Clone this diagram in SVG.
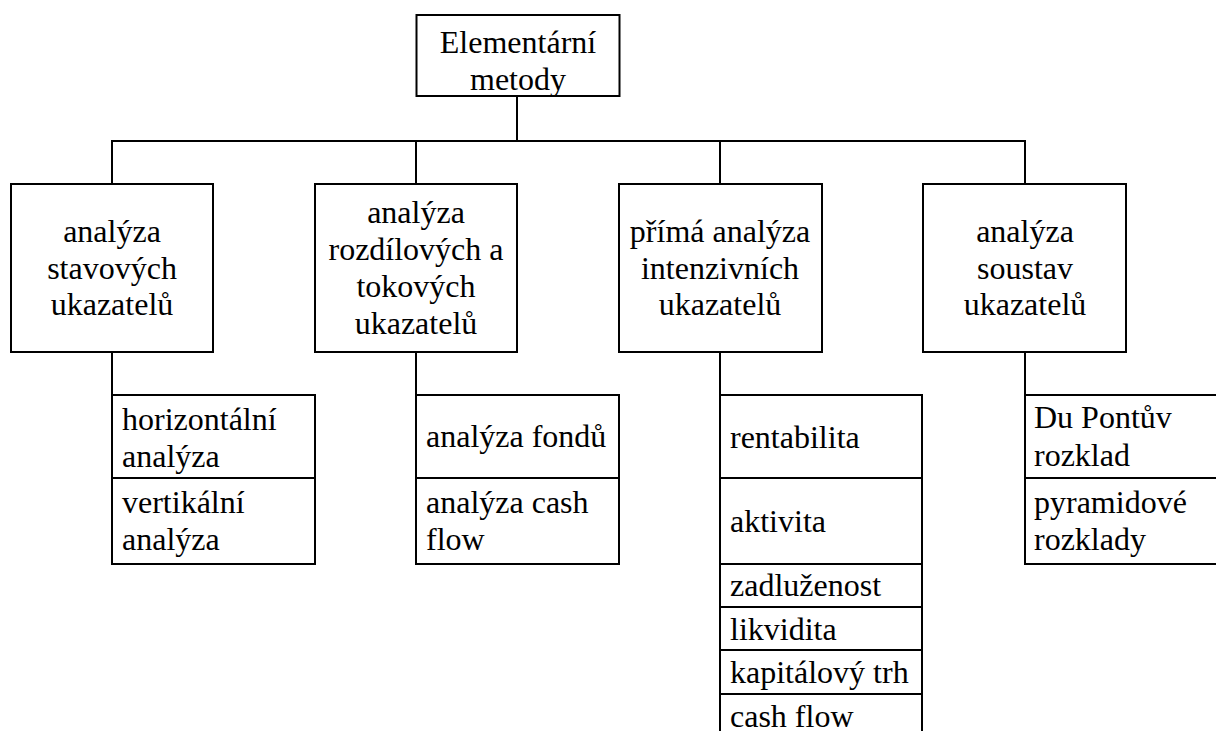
<svg xmlns="http://www.w3.org/2000/svg" width="1216" height="731" viewBox="0 0 1216 731">
<style>
.b { fill: none; stroke: #000; stroke-width: 2; }
.c { text-anchor: middle; }
</style>
<rect x="0" y="0" width="1216" height="731" fill="#fff"/>
<g id="connectors" class="b">
<line x1="517" y1="96" x2="517" y2="141"/>
<line x1="112" y1="141" x2="1025" y2="141"/>
<line x1="112" y1="140" x2="112" y2="184"/>
<line x1="416" y1="140" x2="416" y2="184"/>
<line x1="720" y1="140" x2="720" y2="184"/>
<line x1="1025" y1="140" x2="1025" y2="184"/>
<line x1="112" y1="352" x2="112" y2="395"/>
<line x1="416" y1="352" x2="416" y2="395"/>
<line x1="720" y1="352" x2="720" y2="395"/>
<line x1="1025" y1="352" x2="1025" y2="395"/>
</g>
<g id="root">
<rect class="b" x="416.5" y="15" width="203" height="81"/>
<text class="c" x="518" y="53" font-size="32" font-family="Times New Roman" style="font-family:'Times New Roman','Liberation Serif',serif">Elementární</text>
<text class="c" x="518" y="89.5" font-size="32" font-family="Times New Roman" style="font-family:'Times New Roman','Liberation Serif',serif">metody</text>
</g>
<g id="n1">
<rect class="b" x="11" y="184" width="202" height="168"/>
<text class="c" x="112" y="242" font-size="32" font-family="Times New Roman" style="font-family:'Times New Roman','Liberation Serif',serif">analýza</text>
<text class="c" x="112" y="278.5" font-size="32" font-family="Times New Roman" style="font-family:'Times New Roman','Liberation Serif',serif">stavových</text>
<text class="c" x="112" y="315" font-size="32" font-family="Times New Roman" style="font-family:'Times New Roman','Liberation Serif',serif">ukazatelů</text>
</g>
<g id="n2">
<rect class="b" x="315" y="184" width="202" height="168"/>
<text class="c" x="416" y="223" font-size="32" font-family="Times New Roman" style="font-family:'Times New Roman','Liberation Serif',serif">analýza</text>
<text class="c" x="416" y="260" font-size="32" font-family="Times New Roman" style="font-family:'Times New Roman','Liberation Serif',serif">rozdílových a</text>
<text class="c" x="416" y="297" font-size="32" font-family="Times New Roman" style="font-family:'Times New Roman','Liberation Serif',serif">tokových</text>
<text class="c" x="416" y="334" font-size="32" font-family="Times New Roman" style="font-family:'Times New Roman','Liberation Serif',serif">ukazatelů</text>
</g>
<g id="n3">
<rect class="b" x="619" y="184" width="203" height="168"/>
<text class="c" x="720" y="242" font-size="32" font-family="Times New Roman" style="font-family:'Times New Roman','Liberation Serif',serif">přímá analýza</text>
<text class="c" x="720" y="278.5" font-size="32" font-family="Times New Roman" style="font-family:'Times New Roman','Liberation Serif',serif">intenzivních</text>
<text class="c" x="720" y="315" font-size="32" font-family="Times New Roman" style="font-family:'Times New Roman','Liberation Serif',serif">ukazatelů</text>
</g>
<g id="n4">
<rect class="b" x="923" y="184" width="203" height="168"/>
<text class="c" x="1025" y="242" font-size="32" font-family="Times New Roman" style="font-family:'Times New Roman','Liberation Serif',serif">analýza</text>
<text class="c" x="1025" y="278.5" font-size="32" font-family="Times New Roman" style="font-family:'Times New Roman','Liberation Serif',serif">soustav</text>
<text class="c" x="1025" y="315" font-size="32" font-family="Times New Roman" style="font-family:'Times New Roman','Liberation Serif',serif">ukazatelů</text>
</g>
<g id="n1a">
<rect class="b" x="112" y="395" width="203" height="83"/>
<text x="122" y="430" font-size="32" font-family="Times New Roman" style="font-family:'Times New Roman','Liberation Serif',serif">horizontální</text>
<text x="122" y="466.5" font-size="32" font-family="Times New Roman" style="font-family:'Times New Roman','Liberation Serif',serif">analýza</text>
</g>
<g id="n1b">
<rect class="b" x="112" y="478" width="203" height="86"/>
<text x="122" y="513" font-size="32" font-family="Times New Roman" style="font-family:'Times New Roman','Liberation Serif',serif">vertikální</text>
<text x="122" y="550" font-size="32" font-family="Times New Roman" style="font-family:'Times New Roman','Liberation Serif',serif">analýza</text>
</g>
<g id="n2a">
<rect class="b" x="416" y="395" width="203" height="83"/>
<text x="426" y="447" font-size="32" font-family="Times New Roman" style="font-family:'Times New Roman','Liberation Serif',serif">analýza fondů</text>
</g>
<g id="n2b">
<rect class="b" x="416" y="478" width="203" height="86"/>
<text x="426" y="513" font-size="32" font-family="Times New Roman" style="font-family:'Times New Roman','Liberation Serif',serif">analýza cash</text>
<text x="426" y="550" font-size="32" font-family="Times New Roman" style="font-family:'Times New Roman','Liberation Serif',serif">flow</text>
</g>
<g id="n3a">
<rect class="b" x="720" y="395" width="202" height="83"/>
<text x="730" y="447.5" font-size="32" font-family="Times New Roman" style="font-family:'Times New Roman','Liberation Serif',serif">rentabilita</text>
</g>
<g id="n3b">
<rect class="b" x="720" y="478" width="202" height="86"/>
<text x="730" y="531.5" font-size="32" font-family="Times New Roman" style="font-family:'Times New Roman','Liberation Serif',serif">aktivita</text>
</g>
<g id="n3c">
<rect class="b" x="720" y="564" width="202" height="43"/>
<text x="730" y="596" font-size="32" font-family="Times New Roman" style="font-family:'Times New Roman','Liberation Serif',serif">zadluženost</text>
</g>
<g id="n3d">
<rect class="b" x="720" y="607" width="202" height="43"/>
<text x="730" y="639.5" font-size="32" font-family="Times New Roman" style="font-family:'Times New Roman','Liberation Serif',serif">likvidita</text>
</g>
<g id="n3e">
<rect class="b" x="720" y="650" width="202" height="44"/>
<text x="730" y="683" font-size="32" font-family="Times New Roman" style="font-family:'Times New Roman','Liberation Serif',serif">kapitálový trh</text>
</g>
<g id="n3f">
<rect class="b" x="720" y="694" width="202" height="60"/>
<text x="730" y="727" font-size="32" font-family="Times New Roman" style="font-family:'Times New Roman','Liberation Serif',serif">cash flow</text>
</g>
<g id="n4a">
<rect class="b" x="1025" y="395" width="205" height="83"/>
<text x="1034" y="428" font-size="32" font-family="Times New Roman" style="font-family:'Times New Roman','Liberation Serif',serif">Du Pontův</text>
<text x="1034" y="466" font-size="32" font-family="Times New Roman" style="font-family:'Times New Roman','Liberation Serif',serif">rozklad</text>
</g>
<g id="n4b">
<rect class="b" x="1025" y="478" width="205" height="86"/>
<text x="1034" y="513" font-size="32" font-family="Times New Roman" style="font-family:'Times New Roman','Liberation Serif',serif">pyramidové</text>
<text x="1034" y="549.5" font-size="32" font-family="Times New Roman" style="font-family:'Times New Roman','Liberation Serif',serif">rozklady</text>
</g>
</svg>
